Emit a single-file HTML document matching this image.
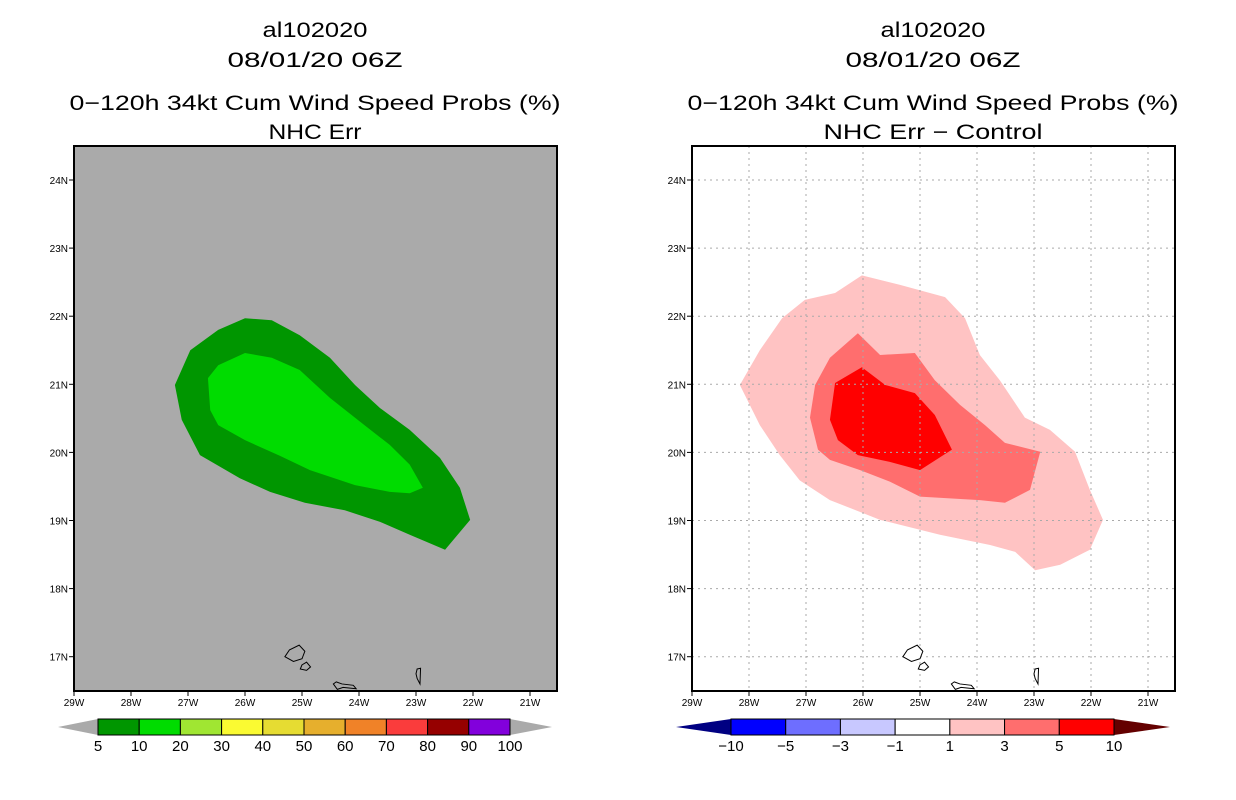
<!DOCTYPE html>
<html><head><meta charset="utf-8"><style>
body{margin:0;background:#fff;width:1236px;height:800px;overflow:hidden}
svg{display:block}
text{font-family:"Liberation Sans",sans-serif}
</style></head><body>
<svg id="c" width="1236" height="800" xmlns="http://www.w3.org/2000/svg"></svg>
<script>
const lonTicks=[29,28,27,26,25,24,23,22,21];
const latTicks=[24,23,22,21,20,19,18,17];
const leftDark=[[27.23,20.99],[26.96,21.5],[26.47,21.8],[26.0,21.97],[25.53,21.94],[25.04,21.72],[24.51,21.39],[24.07,20.99],[23.63,20.65],[23.11,20.33],[22.58,19.92],[22.23,19.48],[22.05,19.01],[22.49,18.57],[23.11,18.79],[23.63,18.98],[24.25,19.15],[24.95,19.26],[25.56,19.42],[26.09,19.62],[26.79,19.96],[27.11,20.48]];
const leftLight=[[26.65,21.09],[26.47,21.28],[26.0,21.46],[25.53,21.39],[25.04,21.21],[24.51,20.8],[23.98,20.45],[23.46,20.11],[23.11,19.82],[22.88,19.48],[23.11,19.4],[23.46,19.42],[24.07,19.52],[24.86,19.74],[25.39,19.95],[26.0,20.18],[26.47,20.4],[26.61,20.62]];
const rightP1=[[28.16,20.99],[27.81,21.5],[27.42,21.97],[27.02,22.24],[26.49,22.34],[26.02,22.6],[25.35,22.46],[24.56,22.28],[24.21,21.97],[23.95,21.43],[23.6,21.06],[23.16,20.51],[22.72,20.33],[22.28,20.01],[22.02,19.45],[21.79,19.01],[22.02,18.57],[22.54,18.35],[22.98,18.27],[23.33,18.54],[23.77,18.64],[24.65,18.79],[25.7,19.01],[26.58,19.3],[27.11,19.59],[27.46,19.96],[27.81,20.4]];
const rightP3=[[26.84,20.99],[26.58,21.39],[26.09,21.75],[25.7,21.43],[25.09,21.46],[24.74,21.06],[24.3,20.7],[23.86,20.4],[23.51,20.14],[22.89,20.01],[23.07,19.45],[23.51,19.26],[23.95,19.3],[25.0,19.35],[25.53,19.57],[26.05,19.74],[26.58,19.89],[26.79,20.04],[26.93,20.51]];
const rightP5=[[26.49,21.02],[26.02,21.25],[25.61,20.99],[25.09,20.87],[24.74,20.55],[24.44,20.04],[25.0,19.74],[25.53,19.86],[26.09,19.96],[26.44,20.18],[26.58,20.48]];
const islands=[
 [[25.3,17.0],[25.22,17.1],[25.05,17.17],[24.95,17.08],[25.0,16.97],[25.15,16.93]],
 [[25.0,16.88],[24.92,16.92],[24.85,16.85],[24.92,16.8],[25.03,16.82]],
 [[24.4,16.63],[24.3,16.6],[24.1,16.58],[24.05,16.53],[24.28,16.55],[24.38,16.52],[24.45,16.6]],
 [[22.98,16.82],[22.92,16.83],[22.93,16.6],[22.98,16.68],[23.0,16.75]]];
const leftLevels=["5","10","20","30","40","50","60","70","80","90","100"];
const leftColors=["#009600","#00dc00","#a0e632","#fafa32","#e6dc32","#e6af2d","#f08228","#fa3c3c","#960000","#8200dc"];
const rightLevels=["\u221210","\u22125","\u22123","\u22121","1","3","5","10"];
const rightColors=["#0000ff","#6e6eff","#c8c8ff","#ffffff","#ffc3c3","#ff6e6e","#ff0000"];

const NS="http://www.w3.org/2000/svg";
const svg=document.getElementById('c');
function mk(tag,attrs,parent){const e=document.createElementNS(NS,tag);for(const k in attrs)e.setAttribute(k,attrs[k]);(parent||svg).appendChild(e);return e;}
function panel(x0,bg,grid,polys,title2,t2w,nameP){
  const W=483,H=545,y0=146;
  const xs=lon=>x0+(29-lon)*57;
  const ys=lat=>180+(24-lat)*68.1;
  const g=mk('g',{});
  
  
  const cx=x0+241;
  const t=[["al102020",37,105],["08/01/20 06Z",67,175],["0\u2212120h 34kt Cum Wind Speed Probs (%)",110,491],[title2,139,t2w]];
  t.forEach((s,i)=>{const e=mk('text',{x:cx,y:s[1],'text-anchor':'middle','font-size':21,textLength:s[2],lengthAdjust:'spacingAndGlyphs'},g);e.textContent=s[0];
    
    });
  const bgr=mk('rect',{x:x0,y:y0,width:W,height:H,fill:bg},g);
  
  
  polys.forEach(p=>{const e=mk('polygon',{points:p[0].map(q=>xs(q[0])+','+ys(q[1])).join(' '),fill:p[1]},g);
    
    });
  if(grid){
    lonTicks.slice(1).forEach(l=>mk('line',{x1:xs(l),x2:xs(l),y1:y0,y2:y0+H,stroke:'#aaa','stroke-dasharray':'2,4'},g));
    latTicks.forEach(l=>mk('line',{x1:x0,x2:x0+W,y1:ys(l),y2:ys(l),stroke:'#aaa','stroke-dasharray':'2,4'},g));
  }
  islands.forEach(p=>{const e=mk('polygon',{points:p.map(q=>xs(q[0])+','+ys(q[1])).join(' '),fill:bg,stroke:'#000','stroke-width':1},g);
    
    });
  mk('rect',{x:x0,y:y0,width:W,height:H,fill:'none',stroke:'#000','stroke-width':2},g);
  lonTicks.forEach(l=>{mk('line',{x1:xs(l),x2:xs(l),y1:y0+H,y2:y0+H+5,stroke:'#000'},g);
    const e=mk('text',{x:xs(l),y:y0+H+15,'text-anchor':'middle','font-size':10},g);e.textContent=l+'W';
    
    });
  latTicks.forEach(l=>{mk('line',{x1:x0-5,x2:x0,y1:ys(l),y2:ys(l),stroke:'#000'},g);
    const e=mk('text',{x:x0-6,y:ys(l)+4,'text-anchor':'end','font-size':10},g);e.textContent=l+'N';
    
    });
}
panel(74,'#aaaaaa',false,[[leftDark,leftColors[0]],[leftLight,leftColors[1]]],'NHC Err',93,'left');
panel(692,'#ffffff',true,[[rightP1,rightColors[4]],[rightP3,rightColors[5]],[rightP5,rightColors[6]]],'NHC Err \u2212 Control',219,'right');

function colorbar(xa,xb,tl,tr,cols,levels,lc,rc,nameP){
  const g=mk('g',{});
  
  
  const y1=719,y2=735,ym=727,w=(xb-xa)/cols.length;
  mk('polygon',{points:`${tl},${ym} ${xa},${y1} ${xa},${y2}`,fill:lc},g);
  mk('polygon',{points:`${tr},${ym} ${xb},${y1} ${xb},${y2}`,fill:rc},g);
  cols.forEach((c,i)=>{const r=mk('rect',{x:xa+i*w,y:y1,width:w,height:y2-y1,fill:c,stroke:'#000','stroke-width':1},g);
    
    });
  levels.forEach((s,i)=>{const e=mk('text',{x:xa+i*w,y:751,'text-anchor':'middle','font-size':15},g);e.textContent=s;
    
    });
}
colorbar(98,510,58,552,leftColors,leftLevels,'#aaaaaa','#aaaaaa','left');
colorbar(731,1114,676,1170,rightColors,rightLevels,'#000082','#640000','right');
</script>
</body></html>
